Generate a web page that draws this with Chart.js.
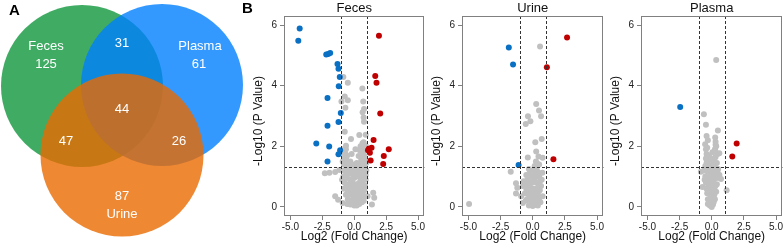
<!DOCTYPE html>
<html>
<head>
<meta charset="utf-8">
<script src="https://cdn.jsdelivr.net/npm/chart.js@4/dist/chart.umd.min.js"></script>
<style>
  body { margin: 0; background: #fff; width: 784px; height: 244px; position: relative; overflow: hidden; font-family: "Liberation Sans", Arial, sans-serif; }
  canvas { position: absolute; top: 0; }
  .tag { position: absolute; z-index: 2; font-weight: bold; font-size: 15px; line-height: 15px; color: #000; }
</style>
</head>
<body>
<canvas id="venn" width="248" height="244" style="left:0"></canvas>
<canvas id="feces" width="178" height="244" style="left:248px"></canvas>
<canvas id="urine" width="179" height="244" style="left:426px"></canvas>
<canvas id="plasma" width="179" height="244" style="left:605px"></canvas>
<div class="tag" style="left:9px;top:2px">A</div>
<div class="tag" style="left:242px;top:0px">B</div>
<script>
// ---- data ----
const vennSets = ['Feces', 'Plasma', 'Urine'];
const vennRegions = ['Feces', 'Feces+Plasma', 'Plasma', 'All', 'Feces+Urine', 'Plasma+Urine', 'Urine'];
const vennCounts = [125, 31, 61, 44, 47, 26, 87];

const panelNames = ['Feces', 'Urine', 'Plasma'];
const xTicks = [-5, -2.5, 0, 2.5, 5];
const yTicks = [0, 2, 4, 6];
const fcCut = 1;          // |log2 FC| threshold
const pCut = 0.05;        // p value threshold

const fecesUp = [[1.94,5.65],[1.65,4.32],[1.75,4.10],[2.04,3.08],[1.52,2.21],[1.36,1.95],[1.08,1.87],[1.23,1.79],
  [1.15,1.92],[2.71,1.90],[2.32,1.68],[1.29,1.53],[2.27,1.42]];
const fecesDown = [[-4.27,5.89],[-4.38,5.48],[-2.19,5.03],[-2.04,5.05],[-1.88,5.08],[-1.31,4.72],[-1.23,4.56],
  [-1.13,4.29],[-1.21,3.98],[-2.09,3.59],[-1.05,3.10],[-1.23,2.80],[-2.09,2.68],[-2.97,2.09],[-1.96,1.99],
  [-1.10,1.87],[-1.23,1.74],[-2.09,1.50]];
const fecesNs = [[-0.85,4.29],[-0.5,4.1],[0.64,3.91],[-0.74,3.64],[-1.0,3.48],[-0.5,3.52],[-0.69,3.27],[0.71,3.48],
  [0.77,3.23],[0.66,3.12],[0.77,2.81],[0.74,2.95],[-0.74,2.48],[0.40,2.37],[0.9,2.38],[-0.25,2.24],[0.74,2.13],
  [-0.64,2.02],[0.9,2.02],[-0.71,1.77],[0.45,1.86],[0.66,1.79],[0.35,1.68],[0.79,1.68],[0.1,1.9],[-0.2,1.75],
  [-0.85,1.9],[-0.75,1.6],[-0.9,1.5],[-0.6,1.55],[-0.8,1.4],[-0.55,1.35],[0.6,1.95],[0.85,1.55],[0.7,1.5],
  [0.95,1.45],[0.55,1.4],[0.8,1.32],[-0.3,1.5],[0.2,1.45],
  [-0.65,1.9],[-0.8,1.75],[-0.55,1.7],[-0.7,1.45],[0.65,1.65],[0.55,1.55],[0.75,1.75],[0.85,1.9],[0.65,2.1],
  [0.5,2.0],[-0.45,1.45],[0.3,1.35],[-0.15,1.4],[0.1,1.35],
  [-2.30,1.11],[-1.94,1.13],[-1.49,1.15],[-1.16,1.22],
  [-0.8,1.2],[-0.6,1.15],[-0.4,1.1],[-0.2,1.2],[0.1,1.15],[0.35,1.2],[0.6,1.2],[0.85,1.15],
  [-0.85,1.0],[-0.55,0.95],[-0.3,0.9],[0.0,0.95],[0.25,1.0],[0.5,0.95],[0.75,1.0],[0.9,0.9],
  [-0.75,0.8],[-0.45,0.75],[-0.15,0.8],[0.15,0.75],[0.4,0.8],[0.65,0.8],[0.85,0.7],
  [-0.8,0.6],[-0.5,0.55],[-0.25,0.6],[0.05,0.55],[0.3,0.6],[0.55,0.6],[0.8,0.55],
  [-0.65,0.4],[-0.35,0.4],[-0.1,0.4],[0.15,0.35],[0.4,0.4],[0.65,0.4],[0.85,0.35],
  [-0.5,0.25],[-0.2,0.2],[0.05,0.2],[0.3,0.22],[0.55,0.25],[0.75,0.2],
  [-0.3,0.08],[0.0,0.05],[0.2,0.05],[0.4,0.1],[-0.1,0.12],[0.1,0.1],
  [-0.65,1.05],[-0.45,1.25],[-0.1,1.05],[0.15,1.25],[0.45,1.1],[0.7,1.1],[-0.35,0.65],[-0.05,0.7],[0.25,0.7],
  [0.5,0.7],[0.75,0.65],[-0.6,0.7],[-0.2,0.5],[0.1,0.45],[0.35,0.5],[0.6,0.5],[-0.45,0.45],[-0.35,0.15],
  [-0.05,0.3],[0.25,0.32],[0.5,0.35],[0.6,0.15],[0.15,0.15],[-0.55,0.1],[0.45,1.3],[0.65,1.35],[0.95,1.2],
  [-0.95,0.9],[0.9,1.05],
  [-1.49,0.35],[-1.26,0.24],[-0.9,0.13],[1.49,0.47],[1.57,0.30],[1.39,0.08],[1.05,0.35]];

const urineUp = [[2.67,5.59],[1.10,4.61],[1.61,1.57]];
const urineDown = [[-1.86,5.26],[-1.53,4.70],[-1.10,1.38]];
const urineNs = [[0.57,5.29],[0.27,3.40],[0.49,3.18],[0.65,2.99],[-0.37,2.99],[-0.18,2.83],[-0.54,2.74],
  [0.70,2.24],[0.20,2.13],[0.27,1.83],[-0.38,1.63],[0.45,1.66],[0.77,1.62],[0.34,1.44],[-1.71,1.16],
  [-1.30,0.78],[-1.20,0.63],[-1.30,0.44],[-4.95,0.10],
  [-0.3,1.25],[0.05,1.2],[0.3,1.25],[-0.5,1.05],[-0.1,1.0],[0.2,1.05],[0.5,1.0],[0.75,1.13],
  [-0.7,0.85],[-0.35,0.8],[0.0,0.85],[0.3,0.8],[0.55,0.85],[0.7,0.9],
  [-0.77,0.69],[-0.5,0.6],[-0.2,0.65],[0.1,0.6],[0.4,0.62],[0.65,0.69],
  [-0.6,0.45],[-0.3,0.4],[0.0,0.45],[0.25,0.4],[0.52,0.3],[0.77,0.35],
  [-0.9,0.35],[-0.45,0.25],[-0.15,0.2],[0.15,0.22],[0.4,0.2],
  [-0.77,0.13],[-0.3,0.05],[0.0,0.03],[0.25,0.06],[-0.1,0.12],[0.1,0.1],
  [-0.2,1.15],[0.15,1.35],[0.4,1.15],[-0.4,0.9],[0.15,0.95],[0.45,0.75],[-0.55,0.75],[-0.1,0.5],[0.2,0.5],
  [0.4,0.45],[-0.4,0.5],[0.05,0.3],[0.3,0.3],[-0.25,0.3],[0.55,0.55],[0.6,0.15],[-0.55,0.2],[0.4,0.05],
  [0.2,0.15],[-0.05,0.8],[0.25,1.5],[0.5,1.4]];

const plasmaUp = [[1.94,2.09],[1.60,1.66]];
const plasmaDown = [[-2.45,3.30]];
const plasmaNs = [[0.35,4.85],[-0.61,3.06],[-0.45,2.71],[0.48,2.52],[-0.40,2.34],
  [0.27,2.29],[0.3,2.15],[0.35,2.0],[0.28,1.85],[0.45,1.75],[0.59,1.77],
  [-0.51,2.07],[-0.45,1.9],[-0.4,1.75],[-0.33,1.6],[-0.84,1.16],[0.72,0.92],[1.16,0.55],
  [-0.2,1.7],[0.05,1.8],[0.3,1.65],[-0.45,1.6],
  [-0.3,1.5],[0.1,1.5],[0.4,1.45],[-0.5,1.35],[-0.1,1.35],[0.25,1.3],[0.5,1.25],
  [-0.6,1.2],[-0.3,1.15],[0.0,1.2],[0.3,1.1],[0.6,1.05],
  [-0.5,1.0],[-0.2,0.95],[0.1,1.0],[0.4,0.95],
  [-0.72,0.66],[-0.45,0.8],[-0.15,0.8],[0.15,0.8],[0.4,0.75],
  [-0.4,0.6],[-0.1,0.6],[0.2,0.6],[0.35,0.5],
  [-0.35,0.45],[-0.05,0.4],[0.2,0.4],
  [-0.3,0.25],[0.0,0.2],[0.25,0.25],
  [-0.15,0.05],[0.1,0.08],[-0.3,0.1],
  [-0.2,1.25],[0.15,1.4],[0.45,1.15],[-0.1,1.1],[0.2,1.2],[-0.35,0.85],[0.05,0.9],[0.25,0.95],[-0.55,0.9],
  [-0.25,0.7],[0.05,0.7],[0.3,0.7],[-0.2,0.5],[0.1,0.5],[-0.1,0.3],[0.1,0.3],[-0.2,0.15],[0.15,0.15],
  [0.0,0.0],[-0.4,1.45],[0.2,1.55],[-0.05,1.6],[0.25,1.9],[-0.35,1.95],[0.3,2.05],[-0.3,2.2]];

// ---- layout / style ----
const FONT = '"Liberation Sans", Arial, sans-serif';
const AXIS = '#808080';
const RED = '#c00000', BLUE = '#0a70c4', GREY = '#c0c0c0';
Chart.defaults.font.family = FONT;

// venn geometry in canvas units (circle centre x, y, radius)
const vennCircles = [[82, 86, 81], [162, 85, 81], [122, 155, 81.5]];
const vennColors = ['rgba(16,150,60,0.8)', 'rgba(0,128,255,0.8)', 'rgba(234,106,0,0.8)'];
const vennLabelPos = [[46, 63], [122, 42], [199, 63], [122, 108], [66, 140], [179, 140], [122, 195]];
const vennNamePos = [[46, 45], [200, 45], [122, 213]];

const vennText = {
  id: 'vennText',
  afterDatasetsDraw(chart) {
    const {ctx, scales: {x, y}} = chart;
    ctx.save();
    ctx.fillStyle = '#fff';
    ctx.font = '13px ' + FONT;
    ctx.textAlign = 'center';
    ctx.textBaseline = 'alphabetic';
    vennCounts.forEach((c, i) => {
      const [px, py] = vennLabelPos[i];
      ctx.fillText(String(c), x.getPixelForValue(px), y.getPixelForValue(py) + 4.7);
    });
    vennSets.forEach((s, i) => {
      const [px, py] = vennNamePos[i];
      ctx.fillText(s, x.getPixelForValue(px), y.getPixelForValue(py) + 4.7);
    });
    ctx.restore();
  }
};

new Chart(document.getElementById('venn'), {
  type: 'bubble',
  data: {
    datasets: [{
      data: vennCircles.map(([cx, cy, r]) => ({x: cx, y: cy, r})),
      backgroundColor: vennColors,
      borderWidth: 0,
      clip: false
    }]
  },
  options: {
    responsive: false, animation: false, events: [],
    layout: {padding: 0, autoPadding: false},
    plugins: {legend: {display: false}, tooltip: {enabled: false}},
    scales: {
      x: {type: 'linear', display: false, min: 0, max: 248},
      y: {type: 'linear', display: false, min: 0, max: 244, reverse: true}
    }
  },
  plugins: [vennText]
});

// frame, threshold lines, panel title and y title
const frame = {
  id: 'frame',
  afterDraw(chart) {
    const {ctx, chartArea: a} = chart;
    ctx.save();
    ctx.strokeStyle = AXIS;
    ctx.lineWidth = 1;
    ctx.strokeRect(Math.round(a.left) + 0.5, Math.round(a.top) + 0.5,
      Math.round(a.right - a.left) - 1, Math.round(a.bottom - a.top) - 1);
    ctx.restore();
  }
};

const cutoffs = {
  id: 'cutoffs',
  afterDatasetsDraw(chart) {
    const {ctx, chartArea: a, scales: {x, y}} = chart;
    ctx.save();
    ctx.strokeStyle = '#333';
    ctx.lineWidth = 1;
    ctx.setLineDash([3, 2]);
    ctx.beginPath();
    [-fcCut, fcCut].forEach(v => {
      const px = Math.round(x.getPixelForValue(v)) + 0.5;
      ctx.moveTo(px, a.top); ctx.lineTo(px, a.bottom);
    });
    const py = Math.round(y.getPixelForValue(-Math.log10(pCut))) + 0.5;
    ctx.moveTo(a.left, py); ctx.lineTo(a.right, py);
    ctx.stroke();
    ctx.restore();
  }
};

const panelTitle = {
  id: 'panelTitle',
  afterDraw(chart, args, opts) {
    const {ctx, chartArea: a} = chart;
    ctx.save();
    ctx.fillStyle = '#111';
    ctx.font = '13px ' + FONT;
    ctx.textAlign = 'center';
    ctx.textBaseline = 'alphabetic';
    ctx.fillText(opts.text, (a.left + a.right) / 2, 12);
    // y axis title, sits a little below the panel centre in the source
    ctx.font = '12px ' + FONT;
    ctx.translate(chart.scales.y.left + 11, (a.top + a.bottom) / 2 + 5);
    ctx.rotate(-Math.PI / 2);
    ctx.textBaseline = 'middle';
    ctx.fillText(opts.yText, 0, 0);
    ctx.restore();
  }
};

const toXY = arr => arr.map(([x, y]) => ({x, y}));

function volcano(id, name, up, down, ns) {
  return new Chart(document.getElementById(id), {
    type: 'scatter',
    data: {
      datasets: [
        {data: toXY(up), backgroundColor: RED},
        {data: toXY(down), backgroundColor: BLUE},
        {data: toXY(ns), backgroundColor: GREY}
      ]
    },
    options: {
      responsive: false, animation: false, events: [],
      layout: {padding: {top: 16, right: 1, left: 0, bottom: 0}, autoPadding: false},
      elements: {point: {radius: 3, borderWidth: 0, hoverRadius: 3}},
      plugins: {legend: {display: false}, tooltip: {enabled: false},
        panelTitle: {text: name, yText: '-Log10 (P Value)'}},
      scales: {
        x: {
          type: 'linear', min: -5.5, max: 5.5,
          afterBuildTicks: s => { s.ticks = xTicks.map(v => ({value: v})); },
          afterFit: s => { s.height = 28; },
          grid: {drawOnChartArea: false, tickLength: 4, color: AXIS},
          border: {display: false},
          ticks: {padding: 1, color: '#222', font: {size: 10}, maxRotation: 0, autoSkip: false,
            callback: v => v.toFixed(1)},
          title: {display: true, text: 'Log2 (Fold Change)', color: '#111', font: {size: 12},
            padding: {top: 0, bottom: 0}}
        },
        y: {
          type: 'linear', min: -0.3, max: 6.3,
          afterBuildTicks: s => { s.ticks = yTicks.map(v => ({value: v})); },
          afterFit: s => { s.width = 36; },
          grid: {drawOnChartArea: false, tickLength: 4, color: AXIS},
          border: {display: false},
          ticks: {padding: 3, color: '#222', font: {size: 10}}
        }
      }
    },
    plugins: [frame, cutoffs, panelTitle]
  });
}

volcano('feces', panelNames[0], fecesUp, fecesDown, fecesNs);
volcano('urine', panelNames[1], urineUp, urineDown, urineNs);
volcano('plasma', panelNames[2], plasmaUp, plasmaDown, plasmaNs);
</script>
</body>
</html>
